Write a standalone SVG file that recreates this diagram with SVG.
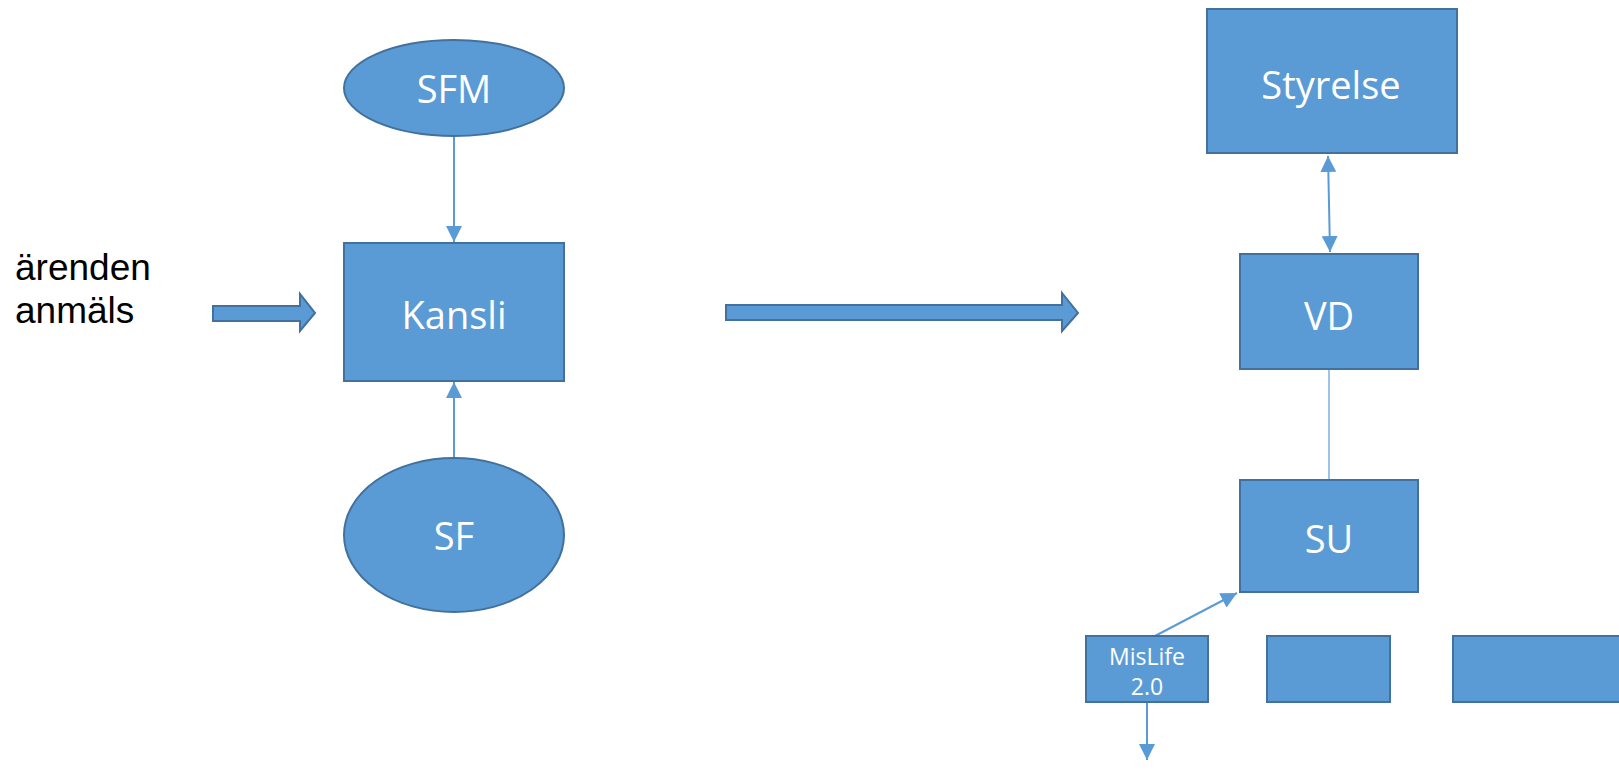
<svg xmlns="http://www.w3.org/2000/svg" width="1619" height="783" viewBox="0 0 1619 783">
<style>
.n{fill:#5B9BD5;stroke:#41719C;stroke-width:2}
.t{fill:#fff;font-family:"Open Sans","Liberation Sans",sans-serif;text-anchor:middle;dominant-baseline:central;font-size:38px}
.s{font-size:23px}
.c{stroke:#5B9BD5;stroke-width:2;fill:none}
.k{fill:#000;font-family:"Liberation Sans",Arial,sans-serif;font-size:37px}
</style>
<defs>
<marker id="ahb" viewBox="0 0 10 10" refX="10" refY="5" markerWidth="8" markerHeight="8" orient="auto-start-reverse"><path d="M0,0 L10,5 L0,10 z" fill="#5B9BD5"/></marker>
</defs>
<g id="connectors">
<line class="c" x1="454" y1="137" x2="454" y2="242" marker-end="url(#ahb)"/>
<line class="c" x1="454" y1="458" x2="454" y2="382" marker-end="url(#ahb)"/>
<line class="c" x1="1328" y1="156" x2="1330" y2="252" marker-start="url(#ahb)" marker-end="url(#ahb)"/>
<line x1="1329" y1="370" x2="1329" y2="480" stroke="#5B9BD5" stroke-width="1.2"/>
<line class="c" x1="1155" y1="636" x2="1237" y2="593" marker-end="url(#ahb)"/>
<line class="c" x1="1147" y1="703" x2="1147" y2="760" marker-end="url(#ahb)"/>
<path class="n" d="M213,306 H300 V294 L315,313 L300,331 V321 H213 Z"/>
<path class="n" d="M726,305 H1062 V293 L1078,313 L1062,331 V320 H726 Z"/>
</g>
<g id="text-arenden">
<text class="k" x="15" y="280">ärenden</text>
<text class="k" x="15" y="323">anmäls</text>
</g>
<g id="SFM"><ellipse class="n" cx="454" cy="88" rx="110" ry="48"/><text class="t" x="454" y="88">SFM</text></g>
<g id="Kansli"><rect class="n" x="344" y="243" width="220" height="138"/><text class="t" x="454" y="314">Kansli</text></g>
<g id="SF"><ellipse class="n" cx="454" cy="535" rx="110" ry="77"/><text class="t" x="454" y="535">SF</text></g>
<g id="Styrelse"><rect class="n" x="1207" y="9" width="250" height="144"/><text class="t" x="1331" y="84">Styrelse</text></g>
<g id="VD"><rect class="n" x="1240" y="254" width="178" height="115"/><text class="t" x="1329" y="315">VD</text></g>
<g id="SU"><rect class="n" x="1240" y="480" width="178" height="112"/><text class="t" x="1329" y="538">SU</text></g>
<g id="MisLife"><rect class="n" x="1086" y="636" width="122" height="66"/><text class="t s" x="1147" y="656">MisLife</text><text class="t s" x="1147" y="686">2.0</text></g>
<g id="box2"><rect class="n" x="1267" y="636" width="123" height="66"/></g>
<g id="box3"><rect class="n" x="1453" y="636" width="180" height="66"/></g>
</svg>
